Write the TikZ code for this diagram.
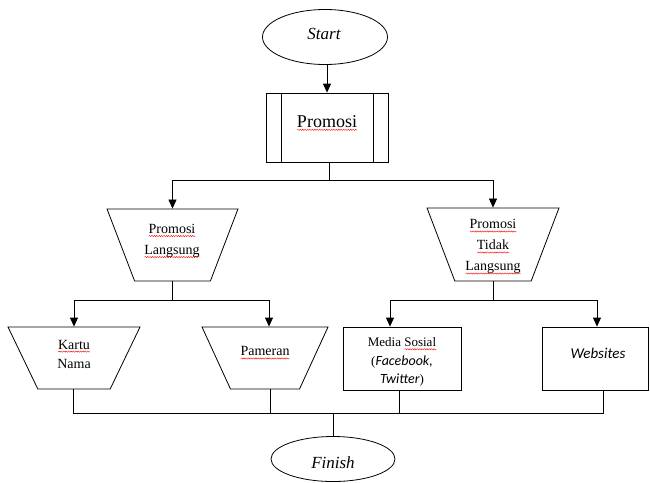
\documentclass[tikz,border=0pt]{standalone}
\usepackage{fontspec}
\setmainfont{Liberation Serif}
\newfontfamily\calfont{Carlito}
\usetikzlibrary{shapes.geometric,arrows.meta,decorations.pathmorphing}
\newsavebox\wavebox
\newlength\wavelen
\newcommand\rwave[1]{\sbox\wavebox{#1}\setlength\wavelen{\wd\wavebox}%
  \rlap{\tikz[baseline=0pt,x=1pt,y=1pt]\draw[red,line width=0.4pt,decorate,decoration={snake,amplitude=0.6pt,segment length=2.4pt}] (0pt,-2.6pt) -- (\wavelen,-2.6pt);}\usebox\wavebox}
\begin{document}
\begin{tikzpicture}[x=1pt,y=-1pt,line width=0.8pt,
  arr/.style={-{Triangle[length=9pt,width=8pt]}},
  term/.style={draw,ellipse,inner sep=0pt},
  trap/.style={draw,trapezium,shape border rotate=180,trapezium stretches=true,inner sep=2pt},
  box/.style={draw,rectangle,inner sep=0pt},
  lbl/.style={inner sep=0pt,align=center,font=\fontsize{14}{20}\selectfont},
  termlbl/.style={inner sep=0pt,font=\fontsize{17}{20}\selectfont\itshape}]
\useasboundingbox (0,0) rectangle (650,482);
% shapes
\node[term,minimum width=125pt,minimum height=55pt] (start) at (325,37) {};
\node[box,minimum width=122pt,minimum height=69pt] (promosi) at (327,127.5) {};
\draw ([xshift=16pt]promosi.north west) -- ([xshift=16pt]promosi.south west);
\draw ([xshift=-15pt]promosi.north east) -- ([xshift=-15pt]promosi.south east);
\node[trap,trapezium angle=70,minimum width=131pt,minimum height=72pt] (pl) at (172.5,245) {};
\node[trap,trapezium angle=70,minimum width=132pt,minimum height=73pt] (ptl) at (493,244.5) {};
\node[trap,trapezium angle=67.6,minimum width=132pt,minimum height=62pt] (kn) at (74,358) {};
\node[trap,trapezium angle=67.6,minimum width=126pt,minimum height=62pt] (pam) at (265,358) {};
\node[box,minimum width=118pt,minimum height=63pt] (ms) at (402,358.5) {};
\node[box,minimum width=106pt,minimum height=63pt] (web) at (595,358.5) {};
\node[term,minimum width=124pt,minimum height=45pt] (finish) at (333,459) {};
% texts
\node[termlbl] (startt) at (324,34) {Start};
\node[lbl,font=\fontsize{18}{22}\selectfont] (promosit) at (327,123) {\rwave{Promosi}};
\node[lbl,font=\fontsize{14}{21}\selectfont] (plt) at (172,241) {\rwave{Promosi}\\\rwave{Langsung}};
\node[lbl,font=\fontsize{14}{21}\selectfont] (ptlt) at (493,247) {\rwave{Promosi}\\\rwave{Tidak}\\\rwave{Langsung}};
\node[lbl,font=\fontsize{14}{19}\selectfont] (knt) at (74,354) {\rwave{Kartu}\\Nama};
\node[lbl] (pamt) at (265,353) {\rwave{Pameran}};
\node[lbl,font=\fontsize{13}{18.5}\selectfont] (mst) at (402,362) {Media \rwave{Sosial}\\({\calfont\itshape\fontsize{14}{18}\selectfont Facebook,}\\{\calfont\itshape\fontsize{14}{18}\selectfont Twitter})};
\node[lbl,font=\calfont\itshape\fontsize{15}{18}\selectfont] (webt) at (598,353) {Websites};
\node[termlbl] (finisht) at (333,463) {Finish};
% connectors
\draw[arr] (promosi.north |- start.south) -- (promosi.north);
\draw ([xshift=2pt]promosi.south) -- ++(0,18) coordinate (j1);
\draw[arr] (j1) -| (pl.90);
\draw[arr] (j1) -| (ptl.90);
\draw (pl.270) -- ++(0,19) coordinate (j2);
\draw[arr] (j2) -| (kn.90);
\draw[arr] (j2) -| ([xshift=4pt]pam.90);
\draw (ptl.270) -- ++(0,19) coordinate (j3);
\draw[arr] (j3) -| ([xshift=-12pt]ms.north);
\draw[arr] (j3) -| ([xshift=2pt]web.north);
\coordinate (bus) at (333,413);
\draw ([xshift=-1pt]kn.270) -- ([xshift=-1pt]kn.270 |- bus) -- ([xshift=8pt]web.south |- bus) -- ([xshift=8pt]web.south);
\draw ([xshift=5pt]pam.270) -- ([xshift=5pt]pam.270 |- bus);
\draw ([xshift=-3pt]ms.south) -- ([xshift=-3pt]ms.south |- bus);
\draw (bus) -- (finish.north);
\end{tikzpicture}
\end{document}
